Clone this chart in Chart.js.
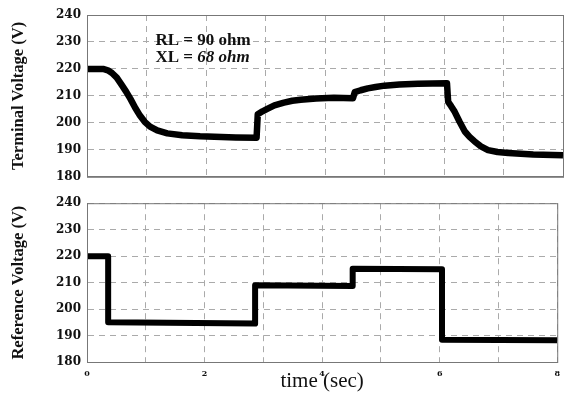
<!DOCTYPE html>
<html>
<head>
<meta charset="utf-8">
<script src="https://cdn.jsdelivr.net/npm/chart.js@4/dist/chart.umd.min.js"></script>
<style>
  body { margin: 0; background: #fff; }
  #wrap { position: relative; width: 567px; height: 394px; background: #fff; }
  canvas { position: absolute; left: 0; }
</style>
</head>
<body>
<div id="wrap">
  <canvas id="termChart" width="567" height="190" style="top:0"></canvas>
  <canvas id="refChart" width="567" height="204" style="top:190px"></canvas>
</div>
<script>
// ----------------------------
// Data
// ----------------------------
const termTime = [0, 0.27, 0.35, 0.42, 0.5, 0.58, 0.66, 0.73, 0.81, 0.89, 0.97, 1.06, 1.18, 1.35, 1.6, 1.9, 2.5, 2.85,
  2.87, 2.95, 3.03, 3.15, 3.31, 3.45, 3.59, 3.85, 4.15, 4.47,
  4.5, 4.6, 4.72, 4.85, 5.0, 5.25, 5.56, 6.05,
  6.07, 6.12, 6.18, 6.26, 6.35, 6.43, 6.51, 6.62, 6.74, 6.9, 7.08, 7.5, 8];
const termVolt = [220, 220, 219.5, 218.5, 216.8, 214.2, 211.5, 208.9, 205.6, 202.7, 200.4, 198.6, 197.2, 196.1, 195.4, 195.0, 194.6, 194.5,
  203.2, 204.3, 205.2, 206.5, 207.5, 208.2, 208.6, 209.0, 209.3, 209.1,
  211.4, 212.1, 212.8, 213.3, 213.8, 214.2, 214.5, 214.7,
  207.8, 206.2, 204.1, 200.5, 196.8, 194.8, 193.2, 191.3, 189.9, 189.2, 188.8, 188.3, 188];

const refTime = [0, 0.36, 0.36, 2.86, 2.86, 4.52, 4.52, 6.04, 6.04, 8];
const refVolt = [220, 220, 195, 194.5, 209, 208.7, 215.2, 215, 188.4, 188.2];

const yTicks = [180, 190, 200, 210, 220, 230, 240];
const xLabels = [0, 2, 4, 6, 8];

// ----------------------------
// Shared styling
// ----------------------------
const serif = "'Liberation Serif', 'DejaVu Serif', serif";
const tickFont = { family: "'DejaVu Serif', serif", size: 12, weight: 'bold' };

// frame around the plot area (Chart.js only draws left/bottom border)
const framePlugin = {
  id: 'frame',
  afterDraw(chart) {
    const { ctx, chartArea: a } = chart;
    ctx.save();
    ctx.strokeStyle = '#777';
    ctx.lineWidth = 1;
    ctx.setLineDash([]);
    ctx.strokeRect(a.left + 0.5, a.top + 0.5, a.right - a.left, a.bottom - a.top);
    ctx.restore();
  }
};

// parameter note in the top plot
const notePlugin = {
  id: 'note',
  afterDraw(chart) {
    const { ctx } = chart;
    const x = chart.scales.x.getPixelForValue(1.15);
    const y1 = chart.scales.y.getPixelForValue(229);
    const y2 = chart.scales.y.getPixelForValue(222.5);
    ctx.save();
    ctx.fillStyle = '#111';
    ctx.textBaseline = 'alphabetic';
    ctx.font = "bold 17px " + serif;
    ctx.fillText('RL = 90 ohm', x, y1);
    ctx.fillText('XL = ', x, y2);
    const w = ctx.measureText('XL = ').width;
    ctx.font = "italic bold 17px " + serif;
    ctx.fillText('68 ohm', x + w, y2);
    ctx.restore();
  }
};

function yAxis(title) {
  return {
    type: 'linear',
    min: 180,
    max: 240,
    afterBuildTicks: s => { s.ticks = yTicks.map(v => ({ value: v })); },
    afterFit: s => { s.width = 87; },
    grid: { color: '#aaa', lineWidth: 1, drawTicks: false },
    border: { display: true, color: '#777', dash: [6, 5] },
    ticks: { color: '#111', font: tickFont, padding: 6 },
    title: { display: true, text: title, color: '#111', font: { family: serif, size: 16.5, weight: 'bold' }, padding: { top: 9, bottom: 0 } }
  };
}

function xAxis(showLabels) {
  return {
    type: 'linear',
    min: 0,
    max: 8,
    afterFit: s => { s.height = showLabels ? 32 : 11; },
    grid: { color: '#aaa', lineWidth: 1, drawTicks: false },
    border: { display: true, color: '#777', dash: [6, 5] },
    ticks: {
      display: showLabels,
      stepSize: 1,
      color: '#111',
      padding: 7,
      maxRotation: 0,
      font: { family: "'DejaVu Serif', serif", size: 8, weight: 'bold' },
      callback: v => xLabels.includes(v) ? String(v) : ''
    },
    title: {
      display: showLabels,
      text: 'time (sec)',
      color: '#111',
      font: { family: serif, size: 21 },
      padding: { top: 0, bottom: 0 }
    }
  };
}

function lineSet(times, volts, width) {
  return {
    data: times.map((t, i) => ({ x: t, y: volts[i] })),
    borderColor: '#000',
    borderWidth: width,
    pointRadius: 0,
    tension: 0,
    fill: false,
    borderJoinStyle: 'round',
    borderCapStyle: 'butt'
  };
}

// ----------------------------
// Charts
// ----------------------------
const termChart = new Chart(document.getElementById('termChart'), {
  type: 'line',
  data: { datasets: [lineSet(termTime, termVolt, 6.5)] },
  options: {
    responsive: false,
    animation: false,
    layout: { padding: { top: 15, right: 4, left: 0, bottom: 0 } },
    plugins: { legend: { display: false }, tooltip: { enabled: false } },
    scales: { x: xAxis(false), y: yAxis('Terminal Voltage (V)') }
  },
  plugins: [framePlugin, notePlugin]
});

const refChart = new Chart(document.getElementById('refChart'), {
  type: 'line',
  data: { datasets: [lineSet(refTime, refVolt, 6)] },
  options: {
    responsive: false,
    animation: false,
    layout: { padding: { top: 8, right: 4, left: 0, bottom: 0 } },
    plugins: { legend: { display: false }, tooltip: { enabled: false } },
    scales: { x: xAxis(true), y: yAxis('Reference Voltage (V)') }
  },
  plugins: [framePlugin]
});
</script>
</body>
</html>
